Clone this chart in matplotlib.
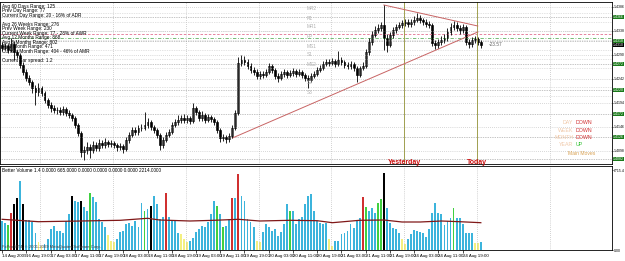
import matplotlib.pyplot as plt
import numpy as np

plt.rcParams['font.family'] = ['Liberation Sans', 'DejaVu Sans']

# EURUSD H1 candles
first_open = 1.4310
closes = [1.4304, 1.4308, 1.4300, 1.4312, 1.4296, 1.4290, 1.4270, 1.4256, 1.4244, 1.4236,
          1.4224, 1.4216, 1.4224, 1.4214, 1.4200, 1.4190, 1.4184, 1.4180, 1.4180, 1.4176,
          1.4182, 1.4174, 1.4170, 1.4164, 1.4150, 1.4134, 1.4096, 1.4100, 1.4106, 1.4100,
          1.4110, 1.4104, 1.4114, 1.4110, 1.4116, 1.4112, 1.4114, 1.4110, 1.4106, 1.4108,
          1.4102, 1.4120, 1.4130, 1.4140, 1.4136, 1.4144, 1.4144, 1.4150, 1.4156, 1.4146,
          1.4140, 1.4130, 1.4110, 1.4120, 1.4130, 1.4136, 1.4150, 1.4156, 1.4160, 1.4164,
          1.4160, 1.4164, 1.4158, 1.4184, 1.4176, 1.4164, 1.4170, 1.4160, 1.4166, 1.4162,
          1.4156, 1.4140, 1.4124, 1.4126, 1.4122, 1.4128, 1.4144, 1.4174, 1.4274, 1.4280,
          1.4276, 1.4268, 1.4260, 1.4256, 1.4248, 1.4252, 1.4250, 1.4256, 1.4268, 1.4260,
          1.4248, 1.4244, 1.4252, 1.4256, 1.4250, 1.4254, 1.4258, 1.4252, 1.4256, 1.4250,
          1.4244, 1.4240, 1.4248, 1.4252, 1.4260, 1.4264, 1.4272, 1.4276, 1.4274, 1.4278,
          1.4272, 1.4280, 1.4276, 1.4270, 1.4268, 1.4272, 1.4264, 1.4250, 1.4264, 1.4268,
          1.4296, 1.4316, 1.4330, 1.4340, 1.4344, 1.4350, 1.4324, 1.4310, 1.4330, 1.4340,
          1.4346, 1.4350, 1.4354, 1.4356, 1.4352, 1.4356, 1.4360, 1.4364, 1.4360, 1.4356,
          1.4352, 1.4350, 1.4314, 1.4310, 1.4316, 1.4320, 1.4324, 1.4336, 1.4346, 1.4350,
          1.4344, 1.4340, 1.4346, 1.4316, 1.4312, 1.4320, 1.4322, 1.4316, 1.4310]
highs = [1.4316, 1.4314, 1.4312, 1.4324, 1.4318, 1.4300, 1.4294, 1.4276, 1.4262, 1.4250,
         1.4240, 1.4230, 1.4234, 1.4228, 1.4218, 1.4204, 1.4196, 1.4190, 1.4186, 1.4186,
         1.4188, 1.4186, 1.4180, 1.4174, 1.4168, 1.4154, 1.4138, 1.4108, 1.4116, 1.4112,
         1.4118, 1.4116, 1.4122, 1.4120, 1.4124, 1.4120, 1.4120, 1.4118, 1.4114, 1.4114,
         1.4112, 1.4126, 1.4136, 1.4146, 1.4146, 1.4150, 1.4152, 1.4176, 1.4164, 1.4160,
         1.4150, 1.4144, 1.4134, 1.4126, 1.4136, 1.4142, 1.4156, 1.4162, 1.4170, 1.4170,
         1.4172, 1.4170, 1.4168, 1.4194, 1.4188, 1.4180, 1.4178, 1.4174, 1.4172, 1.4170,
         1.4166, 1.4160, 1.4144, 1.4132, 1.4130, 1.4134, 1.4150, 1.4180, 1.4286, 1.4290,
         1.4288, 1.4282, 1.4274, 1.4266, 1.4262, 1.4258, 1.4258, 1.4262, 1.4274, 1.4272,
         1.4264, 1.4254, 1.4258, 1.4262, 1.4260, 1.4260, 1.4264, 1.4262, 1.4262, 1.4260,
         1.4254, 1.4250, 1.4254, 1.4258, 1.4266, 1.4270, 1.4278, 1.4282, 1.4282, 1.4284,
         1.4282, 1.4298, 1.4286, 1.4280, 1.4276, 1.4278, 1.4276, 1.4268, 1.4268, 1.4276,
         1.4302, 1.4324, 1.4338, 1.4348, 1.4352, 1.4356, 1.4390, 1.4332, 1.4336, 1.4346,
         1.4352, 1.4356, 1.4360, 1.4362, 1.4362, 1.4362, 1.4368, 1.4374, 1.4370, 1.4364,
         1.4362, 1.4358, 1.4354, 1.4320, 1.4322, 1.4328, 1.4332, 1.4344, 1.4354, 1.4358,
         1.4356, 1.4350, 1.4352, 1.4350, 1.4322, 1.4326, 1.4328, 1.4326, 1.4320]
lows = [1.4298, 1.4300, 1.4294, 1.4296, 1.4280, 1.4284, 1.4264, 1.4250, 1.4238, 1.4230,
        1.4214, 1.4190, 1.4208, 1.4208, 1.4194, 1.4184, 1.4176, 1.4174, 1.4172, 1.4170,
        1.4170, 1.4168, 1.4164, 1.4158, 1.4144, 1.4128, 1.4086, 1.4080, 1.4092, 1.4084,
        1.4094, 1.4098, 1.4098, 1.4104, 1.4104, 1.4106, 1.4106, 1.4104, 1.4098, 1.4100,
        1.4094, 1.4098, 1.4114, 1.4126, 1.4130, 1.4130, 1.4138, 1.4140, 1.4144, 1.4140,
        1.4134, 1.4124, 1.4100, 1.4104, 1.4116, 1.4126, 1.4132, 1.4146, 1.4150, 1.4154,
        1.4154, 1.4154, 1.4152, 1.4154, 1.4170, 1.4158, 1.4158, 1.4154, 1.4156, 1.4156,
        1.4150, 1.4134, 1.4116, 1.4118, 1.4114, 1.4116, 1.4124, 1.4140, 1.4170, 1.4268,
        1.4270, 1.4262, 1.4254, 1.4250, 1.4242, 1.4242, 1.4244, 1.4246, 1.4252, 1.4254,
        1.4242, 1.4236, 1.4240, 1.4246, 1.4244, 1.4246, 1.4248, 1.4246, 1.4248, 1.4244,
        1.4238, 1.4224, 1.4236, 1.4244, 1.4248, 1.4256, 1.4260, 1.4268, 1.4268, 1.4270,
        1.4266, 1.4268, 1.4270, 1.4264, 1.4262, 1.4262, 1.4258, 1.4236, 1.4246, 1.4260,
        1.4264, 1.4290, 1.4310, 1.4326, 1.4334, 1.4338, 1.4300, 1.4296, 1.4306, 1.4324,
        1.4334, 1.4342, 1.4344, 1.4348, 1.4346, 1.4346, 1.4350, 1.4356, 1.4354, 1.4350,
        1.4346, 1.4344, 1.4308, 1.4302, 1.4304, 1.4310, 1.4314, 1.4318, 1.4330, 1.4340,
        1.4338, 1.4332, 1.4334, 1.4310, 1.4304, 1.4306, 1.4314, 1.4310, 1.4304]

# Better Volume histogram (same bars)
volumes = [29, 27, 25, 37, 46, 52, 69, 46, 30, 30, 28, 17, 8, 4, 6, 11, 21, 24, 19, 19,
           17, 29, 36, 54, 49, 48, 49, 43, 39, 57, 53, 48, 31, 28, 23, 15, 9, 8, 11, 18,
           19, 26, 27, 24, 29, 23, 47, 39, 41, 44, 54, 46, 31, 33, 57, 33, 29, 29, 17, 16,
           11, 8, 9, 12, 18, 21, 24, 23, 28, 36, 49, 44, 36, 23, 24, 31, 52, 52, 76, 54,
           49, 31, 28, 23, 9, 8, 18, 26, 23, 19, 21, 14, 18, 26, 46, 39, 39, 26, 31, 33,
           46, 54, 56, 39, 29, 27, 26, 27, 11, 4, 9, 9, 16, 17, 19, 26, 22, 29, 32, 53,
           43, 39, 42, 37, 47, 51, 77, 42, 27, 22, 21, 17, 11, 6, 11, 16, 20, 19, 18, 17,
           13, 21, 37, 47, 37, 36, 25, 29, 32, 42, 32, 32, 26, 17, 17, 17, 7, 7, 8]
red_bars = [3, 54, 76, 78, 119]
black_bars = [4, 5, 7, 23, 26, 49, 126]
green_bars = [2, 29, 47, 71, 73, 95, 120, 124, 125, 149]
yellow_bars = [12, 13, 35, 36, 37, 59, 60, 61, 84, 85, 108, 109, 132, 133, 156, 157]
ma_bars = [0, 12, 26, 39, 48, 52, 62, 70, 78, 85, 95, 104, 109, 118, 126, 132, 138, 145, 151, 158]
ma_values = [30.7, 28.3, 29, 29.7, 31.7, 30, 29, 29.7, 30.7, 29, 29.7, 29.3, 27.3, 29.7, 30,
             28, 28, 29, 28.3, 27.3]

price_ticks = [1.4386, 1.4338, 1.4290, 1.4242, 1.4194, 1.4146, 1.4098]
tag_levels = [1.4366, 1.4318, 1.4272, 1.4220, 1.4172, 1.4126, 1.4082]
pivot_names = ['MR2', 'R1', 'MR1', 'PP', 'MS1', 'S1', 'MS2', 'S2', 'S3']
pivot_levels = [1.4374, 1.4356, 1.4338, 1.4320, 1.4300, 1.4282, 1.4264, 1.4226, 1.4208]
upper_trend = ([126, 157], [1.4390, 1.4348])
lower_trend = ([76, 157], [1.4124, 1.4336])
yesterday_bar, today_bar = 132.7, 156.8
time_labels = ['14 Aug 2009', '16 Aug 19:00', '17 Aug 03:00', '17 Aug 11:00', '17 Aug 19:00',
               '18 Aug 03:00', '18 Aug 11:00', '18 Aug 19:00', '19 Aug 03:00', '19 Aug 11:00',
               '19 Aug 19:00', '20 Aug 03:00', '20 Aug 11:00', '20 Aug 19:00', '21 Aug 03:00',
               '21 Aug 11:00', '21 Aug 19:00', '24 Aug 03:00', '24 Aug 11:00', '24 Aug 19:00']
info_lines = ['Avg 60 Days Range: 125', 'Prev Day Range: 77', 'Current Day Range: 20 - 16% of ADR',
              '', 'Avg 26 Weeks Range: 276', 'Prev Week Range: 230',
              'Current Week Range: 77 - 28% of AWR', 'Avg 12 Months Range: 868',
              'Avg 6 Months Range: 802', 'Prev Month Range: 471',
              'Current Month Range: 404 - 46% of AMR', '', 'Current Bar spread: 1.2']
moves = [('DAY', 'DOWN'), ('WEEK', 'DOWN'), ('MONTH', 'DOWN'), ('YEAR', 'UP')]

closes = np.array(closes)
highs = np.array(highs)
lows = np.array(lows)
opens = np.r_[first_open, closes[:-1]]
x = np.arange(len(closes))
fs = 3.4
fs_axis = 2.5

fig = plt.figure(figsize=(6.25, 2.61), dpi=100)
ax = fig.add_axes([0, 97 / 261, 612 / 625, 162 / 261])
ax2 = fig.add_axes([0, 11 / 261, 612 / 625, 84 / 261])
xmin, xmax = -0.7, 201.3

# ---- price panel
ax.set_xlim(xmin, xmax)
ax.set_ylim(1.4072, 1.4396)
grid_x = 12.5 + 24.05 * np.arange(8)
for gx in grid_x:
    ax.axvline(gx, color='#a8a8a8', lw=0.5, ls=(0, (1, 2)))
    ax2.axvline(gx, color='#a8a8a8', lw=0.5, ls=(0, (1, 2)))
for lv in price_ticks:
    ax.axhline(lv, color='#b4b4b4', lw=0.5, ls=(0, (1, 2)))
for lv in tag_levels:
    ax.axhline(lv, color='#8a8a8a', lw=0.5, ls=(0, (1, 1.5)))
for name, lv in zip(pivot_names, pivot_levels):
    ax.axhline(lv, color='#c8c8c8', lw=0.5, ls=(0, (1, 1.5)))
    ax.text(100.5, lv + 0.0003, name, fontsize=fs, color='#b0b0b0', va='bottom')
ax.axhline(1.4332, color='#e07090', lw=0.6, ls=(0, (3, 2)))
ax.axhline(1.4324, color='#60b060', lw=0.6, ls=(0, (4, 2, 1, 2)))

ax.axvline(yesterday_bar, color='#a0a050', lw=0.7)
ax.axvline(today_bar, color='#a0a050', lw=0.7)
ax.plot(*upper_trend, color='#c86464', lw=0.7)
ax.plot(*lower_trend, color='#c86464', lw=0.7)

ax.vlines(x, lows, highs, color='black', lw=0.6)
up = closes >= opens
ax.bar(x[up], (closes - opens)[up], bottom=opens[up], width=0.62,
       color='white', edgecolor='black', lw=0.45)
ax.bar(x[~up], (closes - opens)[~up], bottom=opens[~up], width=0.62,
       color='black', edgecolor='black', lw=0.45)
ax.text(x[-1] + 2.5, closes[-1], '-23.57', fontsize=fs, color='#606060', va='center')

ax.yaxis.tick_right()
ax.set_yticks(price_ticks)
ax.set_yticklabels([f'{v:.4f}' for v in price_ticks], fontsize=fs_axis)
ax.tick_params(axis='y', length=1, width=0.5, pad=0.4)
ax.set_xticks([])
for lv in tag_levels:
    ax.text(1.0015, lv, f'{lv:.4f}', transform=ax.get_yaxis_transform(), fontsize=fs_axis,
            color='white', va='center', clip_on=False,
            bbox=dict(boxstyle='square,pad=0.1', fc='#1a7a1a', ec='none'))
ax.text(1.0015, closes[-1], f'{closes[-1]:.4f}', transform=ax.get_yaxis_transform(),
        fontsize=fs_axis, color='white', va='center', clip_on=False,
        bbox=dict(boxstyle='square,pad=0.1', fc='black', ec='none'))

for i, line in enumerate(info_lines):
    ax.text(0.004, 0.99 - i * 0.0278, line, transform=ax.transAxes, fontsize=fs, va='top')

for i, (period, move) in enumerate(moves):
    yy = 0.245 - i * 0.045
    ax.text(0.937, yy, period, transform=ax.transAxes, fontsize=fs + 0.4, color='#f0c8a8', ha='right')
    ax.text(0.941, yy, move, transform=ax.transAxes, fontsize=fs + 0.4,
            color='#d03030' if move == 'DOWN' else '#30c030')
ax.text(0.95, 0.055, 'Main Moves', transform=ax.transAxes, fontsize=fs + 0.2,
        color='#d8a050', ha='center')

ax.text(yesterday_bar, 1.4075, 'Yesterday', fontsize=5, color='#cc1010',
        fontweight='bold', ha='center', va='center')
ax.text(today_bar, 1.4075, 'Today', fontsize=5, color='#cc1010',
        fontweight='bold', ha='center', va='center')

# ---- volume panel
colors = ['#3cb4dc'] * len(volumes)
for i in red_bars:
    colors[i] = '#d03030'
for i in black_bars:
    colors[i] = 'black'
for i in green_bars:
    colors[i] = '#40d040'
for i in yellow_bars:
    colors[i] = '#f4f080'
ax2.bar(x, volumes, width=0.62, color=colors)
ax2.plot(ma_bars, ma_values, color='#801818', lw=0.9)
ax2.set_xlim(xmin, xmax)
ax2.set_ylim(0, 84)
ax2.yaxis.tick_right()
ax2.set_yticks([0, 80])
ax2.set_yticklabels(['0.00', '6715.4'], fontsize=fs_axis)
ax2.tick_params(axis='y', length=1, width=0.5, pad=0.4)
ax2.set_xticks(x[::8][:len(time_labels)])
ax2.set_xticklabels(time_labels, fontsize=3.2, ha='left')
ax2.tick_params(axis='x', length=2, width=0.5, pad=1)
ax2.text(0.004, 0.975, 'Better Volume 1.4 0.0000 665.0000 0.0000 0.0000 0.0000 0.0000 2214.0000',
         transform=ax2.transAxes, fontsize=fs, va='top')
ax2.text(0.004, 0.01, 'FxPro MT4, \u00a9 2001-2009 MetaQuotes Software Corp.',
         transform=ax2.transAxes, fontsize=fs - 0.4, va='bottom', color='#404040')

for a in (ax, ax2):
    for s in a.spines.values():
        s.set_linewidth(0.6)

fig.savefig('out.png', dpi=100)
